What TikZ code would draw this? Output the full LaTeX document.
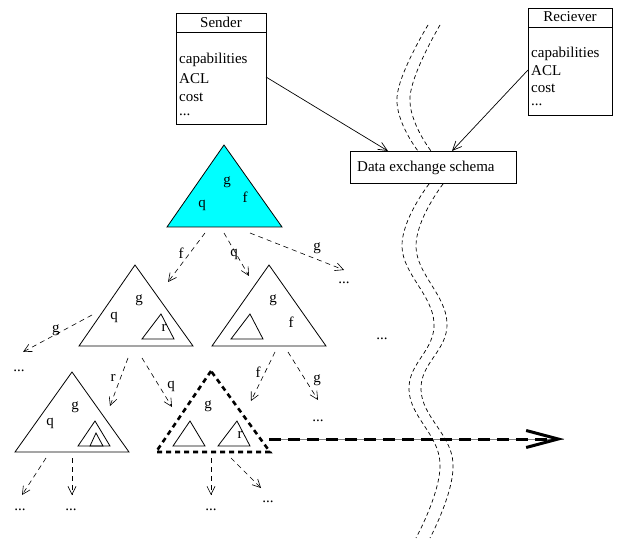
\documentclass[tikz,border=0pt]{standalone}
\usepackage{fontspec}
\setmainfont{Liberation Serif}
\usetikzlibrary{arrows.meta}
\definecolor{rootcyan}{RGB}{0,255,255}
\begin{document}
\begin{tikzpicture}[x=1pt,y=-1pt,
  font=\fontsize{15}{17}\selectfont,
  every node/.style={inner sep=0pt},
  thin line/.style={line width=0.7pt},
  tri/.style={line width=0.8pt, line join=miter},
  boldtri/.style={line width=2.6pt, dash pattern=on 5pt off 4pt},
  darr/.style={line width=0.6pt, dash pattern=on 5pt off 4pt, -{Straight Barb[length=8pt,width=8pt,line width=0.6pt]}},
  sarr/.style={line width=0.7pt, -{Straight Barb[length=9pt,width=8pt,line width=0.7pt]}},
  wave/.style={line width=0.7pt, dash pattern=on 4pt off 3pt},
  lbl/.style={anchor=center},
  dots/.style={anchor=base}
]
\useasboundingbox (0,0) rectangle (619,540);

% Sender box
\node (sender) [draw, thin line, anchor=north west, minimum width=90pt, minimum height=111pt] at (176,13) {};
\draw[thin line] (176,32) -- (266,32);
\node (sendertitle) at (221,22) {Sender};
\node (s1) [anchor=west] at (179,60) {capabilities};
\node (s2) [anchor=west] at (179,79) {ACL};
\node (s3) [anchor=west] at (179,97) {cost};
\node (s4) [anchor=base west] at (179,116) {...};

% Receiver box
\node (recv) [draw, thin line, anchor=north west, minimum width=84pt, minimum height=107pt] at (528,8) {};
\draw[thin line] (528,27) -- (612,27);
\node (recvtitle) at (570,17) {Reciever};
\node (r1) [anchor=west] at (531,54) {capabilities};
\node (r2) [anchor=west] at (531,71) {ACL};
\node (r3) [anchor=west] at (531,88) {cost};
\node (r4) [anchor=base west] at (531,106) {...};

% Data exchange schema
\node (dx) [draw, thin line, anchor=north west, minimum width=166pt, minimum height=32pt] at (350,151) {};
\node (dxtext) [anchor=west] at (357,168) {Data exchange schema};

\coordinate (sout) at (266,77);
\coordinate (rout) at (528,70);
\coordinate (din1) at (388,151);
\coordinate (din2) at (452,151);
\draw[sarr] (sout) -- (din1);
\draw[sarr] (rout) -- (din2);

% wavy double dashed line
\draw[wave] plot[smooth, tension=0.7] coordinates {(428,25) (397,97) (418,151)};
\draw[wave] plot[smooth, tension=0.7] coordinates {(440,25) (410,97) (431,151)};
\draw[wave] plot[smooth, tension=0.7] coordinates {(429,184) (402,247) (434,323) (409,390) (440,463) (416,538)};
\draw[wave] plot[smooth, tension=0.7] coordinates {(443,184) (416,247) (447,323) (421,390) (453,463) (430,538)};

% root cyan triangle
\draw[tri, fill=rootcyan] (224,145) -- (167,227) -- (282,227) -- cycle;
\node[lbl] (t0g) at (227,182) {g};
\node[lbl] (t0f) at (245,197) {f};
\node[lbl] (t0q) at (202,205) {q};

% level 1 left
\draw[tri] (135,265) -- (79,346) -- (193,346) -- cycle;
\draw[tri] (161,314) -- (142,339) -- (174,339) -- cycle;
\node[lbl] (t1g) at (139,300) {g};
\node[lbl] (t1q) at (114,317) {q};
\node[lbl] (t1r) at (164,328) {r};

% level 1 right
\draw[tri] (269,265) -- (212,346) -- (326,346) -- cycle;
\draw[tri] (250,314) -- (231,339) -- (263,339) -- cycle;
\node[lbl] (t2g) at (273,300) {g};
\node[lbl] (t2f) at (291,322) {f};

% level 2 left
\draw[tri] (72,372) -- (15,452) -- (129,452) -- cycle;
\draw[tri] (95,421) -- (78,446) -- (110,446) -- cycle;
\draw[tri] (96,433) -- (90,446) -- (103,446) -- cycle;
\node[lbl] (t3g) at (75,407) {g};
\node[lbl] (t3q) at (50,423) {q};

% level 2 bold dashed
\draw[boldtri] (211,371) -- (156,452) -- (270,452) -- cycle;
\draw[tri] (190,421) -- (173,446) -- (205,446) -- cycle;
\draw[tri] (237,421) -- (218,446) -- (250,446) -- cycle;
\node[lbl] (t4g) at (208,406) {g};
\node[lbl] (t4r) at (240,435) {r};

% arrows from root
\coordinate (a1s) at (205,233); \coordinate (a1e) at (168,282);
\coordinate (a2s) at (224,233); \coordinate (a2e) at (249,276);
\coordinate (a3s) at (250,233); \coordinate (a3e) at (344,270);
\draw[darr] (a1s) -- (a1e);
\draw[darr] (a2s) -- (a2e);
\draw[darr] (a3s) -- (a3e);
\node[lbl] (a1l) at (181,253) {f};
\node[lbl] (a2l) at (234,254) {q};
\node[lbl] (a3l) at (317,248) {g};
\node[dots] (d1) at (344,284) {...};

\node[dots] (d2) at (382,339) {...};

% arrows from level 1 left
\coordinate (b0s) at (92,315); \coordinate (b0e) at (23,352);
\draw[darr] (b0s) -- (b0e);
\node[lbl] (b0l) at (56,330) {g};
\node[dots] (d3) at (19,371) {...};
\coordinate (b1s) at (128,358); \coordinate (b1e) at (110,406);
\coordinate (b2s) at (142,358); \coordinate (b2e) at (172,407);
\draw[darr] (b1s) -- (b1e);
\draw[darr] (b2s) -- (b2e);
\node[lbl] (b1l) at (113,378) {r};
\node[lbl] (b2l) at (171,386) {q};

% arrows from level 1 right
\coordinate (c1s) at (275,352); \coordinate (c1e) at (251,401);
\coordinate (c2s) at (288,352); \coordinate (c2e) at (318,400);
\draw[darr] (c1s) -- (c1e);
\draw[darr] (c2s) -- (c2e);
\node[lbl] (c1l) at (258,372) {f};
\node[lbl] (c2l) at (317,380) {g};
\node[dots] (d4) at (318,421) {...};

% arrows from level 2 left
\coordinate (e1s) at (46,458); \coordinate (e1e) at (22,495);
\coordinate (e2s) at (72,458); \coordinate (e2e) at (72,495);
\draw[darr] (e1s) -- (e1e);
\draw[darr] (e2s) -- (e2e);
\node[dots] (d5) at (20,510) {...};
\node[dots] (d6) at (71,510) {...};

% arrows from bold triangle
\coordinate (f1s) at (211,458); \coordinate (f1e) at (211,495);
\coordinate (f2s) at (231,458); \coordinate (f2e) at (261,488);
\draw[darr] (f1s) -- (f1e);
\draw[darr] (f2s) -- (f2e);
\node[dots] (d7) at (211,510) {...};
\node[dots] (d8) at (268,502) {...};

% big transfer arrow
\coordinate (gs) at (269,439); \coordinate (ge) at (564,439);
\draw[line width=0.6pt, gray] (gs) -- (ge);
\draw[line width=3pt, dash pattern=on 12pt off 7pt, -{Straight Barb[length=32pt,width=17pt,line width=3pt]}] (gs) -- (ge);
\end{tikzpicture}
\end{document}
